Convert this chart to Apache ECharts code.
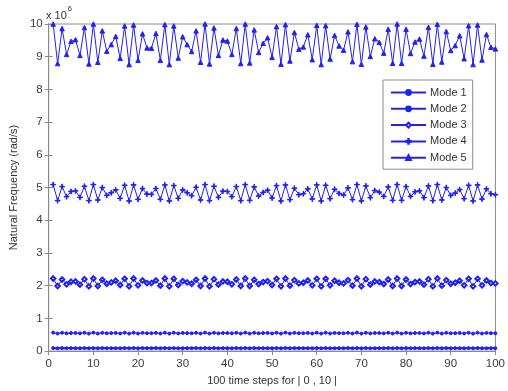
<!DOCTYPE html>
<html>
<head>
<meta charset="utf-8">
<script src="https://cdn.jsdelivr.net/npm/echarts@6/dist/echarts.min.js"></script>
<style>
html,body{margin:0;padding:0;background:#fff;}
#chart{width:508px;height:391px;}
</style>
</head>
<body>
<div id="chart"></div>
<script>
// Natural frequencies in units of 10^6 rad/s, time steps 1..100
const seriesNames = ['Mode 1', 'Mode 2', 'Mode 3', 'Mode 4', 'Mode 5'];
const xTicks = [0, 10, 20, 30, 40, 50, 60, 70, 80, 90, 100];
const yTicks = [0, 1, 2, 3, 4, 5, 6, 7, 8, 9, 10];

const mode1 = [.093,.087,.093,.09,.09,.09,.087,.093,.087,.093,.087,.093,.09,.09,.09,.087,.093,.087,.093,.087,
.093,.09,.09,.093,.087,.093,.087,.093,.087,.09,.09,.09,.093,.087,.093,.087,.093,.087,.09,.09,
.087,.093,.087,.093,.087,.093,.09,.09,.09,.087,.093,.087,.093,.087,.093,.09,.09,.09,.087,.093,
.087,.093,.087,.09,.09,.09,.093,.087,.093,.087,.093,.087,.09,.09,.09,.093,.087,.093,.087,.093,
.09,.09,.09,.087,.093,.087,.093,.087,.093,.09,.09,.09,.087,.093,.087,.093,.087,.09,.09,.09];

const mode2 = [.565,.536,.562,.543,.552,.553,.542,.562,.535,.565,.537,.560,.545,.550,.556,.540,.564,.535,.564,.538,
.558,.547,.547,.558,.538,.564,.535,.563,.540,.556,.550,.545,.560,.537,.565,.535,.562,.542,.553,.552,
.543,.562,.536,.565,.536,.561,.544,.551,.555,.540,.563,.535,.565,.538,.559,.546,.548,.557,.539,.564,
.535,.564,.539,.556,.549,.546,.559,.537,.565,.535,.563,.541,.554,.551,.543,.561,.536,.565,.536,.561,
.543,.552,.554,.541,.563,.535,.565,.537,.559,.545,.549,.556,.539,.564,.535,.564,.538,.557,.548,.547];

const mode3 = [2.22,1.99,2.19,2.04,2.12,2.13,2.03,2.20,1.98,2.22,1.99,2.18,2.06,2.10,2.15,2.02,2.21,1.98,2.22,2.01,
2.16,2.08,2.08,2.16,2.00,2.22,1.98,2.21,2.02,2.14,2.10,2.06,2.18,1.99,2.22,1.98,2.20,2.03,2.13,2.12,
2.04,2.19,1.99,2.22,1.99,2.18,2.05,2.11,2.14,2.02,2.21,1.98,2.22,2.00,2.17,2.07,2.09,2.16,2.01,2.21,
1.98,2.21,2.01,2.15,2.09,2.07,2.17,2.00,2.22,1.98,2.20,2.03,2.13,2.11,2.05,2.19,1.99,2.22,1.99,2.19,
2.05,2.11,2.13,2.03,2.20,1.98,2.22,2.00,2.17,2.06,2.09,2.15,2.01,2.21,1.98,2.21,2.01,2.16,2.08,2.07];

const mode4 = [5.09,4.60,5.03,4.72,4.88,4.90,4.70,5.04,4.60,5.09,4.62,5.00,4.76,4.84,4.93,4.67,5.07,4.59,5.08,4.64,
4.97,4.80,4.79,4.97,4.64,5.08,4.59,5.06,4.67,4.93,4.84,4.75,5.01,4.62,5.09,4.60,5.04,4.70,4.89,4.88,
4.72,5.03,4.60,5.09,4.61,5.02,4.74,4.85,4.92,4.68,5.06,4.59,5.08,4.63,4.98,4.78,4.81,4.96,4.65,5.08,
4.59,5.07,4.66,4.95,4.82,4.77,4.99,4.63,5.09,4.59,5.05,4.69,4.91,4.86,4.73,5.02,4.61,5.09,4.61,5.03,
4.73,4.87,4.90,4.69,5.05,4.60,5.09,4.62,5.00,4.76,4.83,4.94,4.66,5.07,4.59,5.08,4.65,4.96,4.81,4.78];

const mode5 = [10.00,8.79,9.86,9.07,9.47,9.52,9.04,9.89,8.78,10.00,8.83,9.79,9.17,9.37,9.62,8.95,9.94,8.76,9.97,8.89,
9.70,9.27,9.26,9.71,8.89,9.98,8.76,9.94,8.96,9.61,9.37,9.16,9.79,8.83,10.00,8.78,9.88,9.04,9.51,9.48,
9.07,9.86,8.79,10.00,8.81,9.82,9.13,9.41,9.58,8.98,9.92,8.77,9.98,8.87,9.74,9.23,9.30,9.67,8.91,9.96,
8.76,9.95,8.93,9.65,9.33,9.20,9.76,8.85,9.99,8.77,9.91,9.01,9.55,9.44,9.11,9.84,8.80,10.00,8.80,9.84,
9.10,9.45,9.54,9.02,9.90,8.77,9.99,8.84,9.77,9.19,9.34,9.64,8.94,9.95,8.76,9.97,8.90,9.68,9.29,9.24];

const steps = [];
for (let i = 1; i <= mode5.length; i++) steps.push(i);

const allModes = [mode1, mode2, mode3, mode4, mode5];
const pair = arr => arr.map((v, i) => [steps[i], v]);

const BLUE = '#2222f0';
const FONT = '"Liberation Sans", Arial, sans-serif';
const plusPath = 'path://M0,4.4H10V5.6H0Z M4.4,0H5.6V10H4.4Z';

const styles = [
  {symbol: 'circle', symbolSize: 3, lineWidth: 2.2},
  {symbol: 'circle', symbolSize: 3, lineWidth: 1},
  {symbol: 'emptyDiamond', symbolSize: 4.5, lineWidth: 1},
  {symbol: plusPath, symbolSize: 5, lineWidth: 1},
  {symbol: 'triangle', symbolSize: 4.5, lineWidth: 1}
];

const series = seriesNames.map((name, i) => ({
  name: name,
  type: 'line',
  data: pair(allModes[i]),
  symbol: styles[i].symbol,
  symbolSize: styles[i].symbolSize,
  showSymbol: true,
  showAllSymbol: true,
  animation: false,
  lineStyle: {color: BLUE, width: styles[i].lineWidth},
  itemStyle: {color: BLUE, borderColor: BLUE, borderWidth: 1},
  emphasis: {disabled: true}
}));

const axisCommonX = {
  type: 'value', min: xTicks[0], max: xTicks[xTicks.length - 1], interval: 10
};
const axisCommonY = {
  type: 'value', min: yTicks[0], max: yTicks[yTicks.length - 1], interval: 1
};
const lineCol = '#8a8a8a';

const chart = echarts.init(document.getElementById('chart'), null, {renderer: 'canvas'});
chart.setOption({
  backgroundColor: '#ffffff',
  animation: false,
  textStyle: {fontFamily: FONT},
  grid: {left: 46, right: 5, top: 24, bottom: 33, show: true, borderColor: lineCol, borderWidth: 1},
  xAxis: [
    Object.assign({}, axisCommonX, {
      position: 'bottom',
      name: '100 time steps for | 0 , 10 |',
      nameLocation: 'middle',
      nameGap: 23,
      nameTextStyle: {fontSize: 11, color: '#333', fontFamily: FONT},
      axisLine: {show: true, lineStyle: {color: lineCol}},
      axisTick: {show: true, inside: true, length: 4, lineStyle: {color: lineCol}},
      axisLabel: {fontSize: 11.5, color: '#3a3a3a', margin: 7, fontFamily: FONT},
      splitLine: {show: false}
    }),
    Object.assign({}, axisCommonX, {
      position: 'top',
      axisLine: {show: true, lineStyle: {color: lineCol}},
      axisTick: {show: true, inside: true, length: 4, lineStyle: {color: lineCol}},
      axisLabel: {show: false},
      splitLine: {show: false}
    })
  ],
  yAxis: [
    Object.assign({}, axisCommonY, {
      position: 'left',
      name: 'Natural Frequency (rad/s)',
      nameLocation: 'middle',
      nameGap: 27,
      nameTextStyle: {fontSize: 11, color: '#333', fontFamily: FONT},
      axisLine: {show: true, lineStyle: {color: lineCol}},
      axisTick: {show: true, inside: true, length: 4, lineStyle: {color: lineCol}},
      axisLabel: {fontSize: 11.5, color: '#3a3a3a', margin: 6, fontFamily: FONT},
      splitLine: {show: false}
    }),
    Object.assign({}, axisCommonY, {
      position: 'right',
      axisLine: {show: true, lineStyle: {color: lineCol}},
      axisTick: {show: true, inside: true, length: 4, lineStyle: {color: lineCol}},
      axisLabel: {show: false},
      splitLine: {show: false}
    })
  ],
  legend: {
    data: seriesNames,
    orient: 'vertical',
    left: 383,
    top: 80,
    itemWidth: 35,
    itemHeight: 6,
    itemGap: 3.3,
    padding: [6, 6, 5, 7],
    backgroundColor: '#fff',
    borderColor: '#8a8a8a',
    borderWidth: 1,
    borderRadius: 0,
    textStyle: {fontSize: 11, color: '#333', fontFamily: FONT, lineHeight: 13, padding: [0, 0, 0, -1]},
    selectedMode: false
  },
  graphic: [{
    type: 'text',
    left: 46,
    top: 5,
    style: {
      text: '{a|x 10}{b|6}',
      rich: {
        a: {fontSize: 11, fill: '#333', fontFamily: FONT, verticalAlign: 'bottom', padding: [5, 0, 0, 0]},
        b: {fontSize: 7.5, fill: '#333', fontFamily: FONT, verticalAlign: 'top', padding: [0, 0, 6, 1]}
      }
    }
  }],
  series: series
});
</script>
</body>
</html>
